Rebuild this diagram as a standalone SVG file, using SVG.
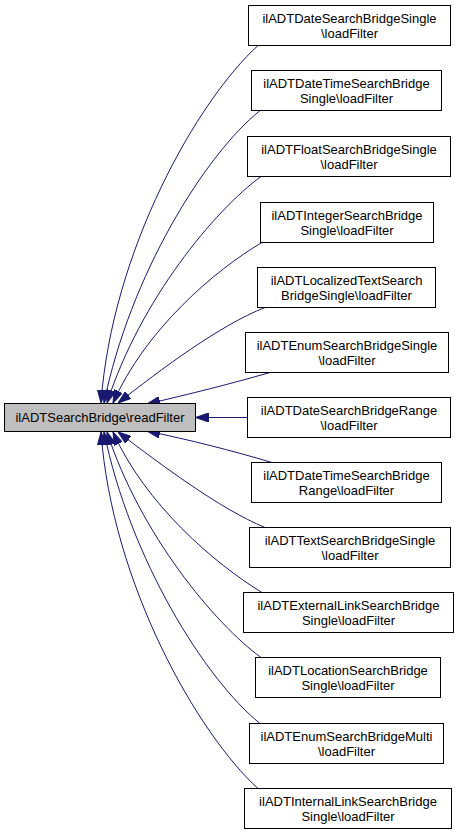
<svg xmlns="http://www.w3.org/2000/svg" width="455" height="836" viewBox="0 0 455 836">
<style>
.n rect{fill:#ffffff;stroke:#000000;stroke-width:1}
.n.main rect{fill:#bfbfbf}
.n text{font-family:"Liberation Sans",Arial,sans-serif;font-size:13px;fill:#000000;text-anchor:middle}
.e path{fill:none;stroke:#191970;stroke-width:1;marker-end:url(#ah)}
</style>
<defs>
<marker id="ah" markerUnits="userSpaceOnUse" viewBox="0 0 13 9" refX="13" refY="4.5" markerWidth="13" markerHeight="9" orient="auto">
<path d="M0,0 L13,4.5 L0,9 Z" fill="#191970" stroke="#191970" stroke-width="1"/>
</marker>
</defs>
<rect width="455" height="836" fill="#ffffff"/>
<g id="edges" class="e">
<path d="M258,45.5 C198,100 112,250 101,403"/>
<path d="M260,110.5 C205,155 130,275 104,403"/>
<path d="M261,176.5 C215,210 140,300 107,403"/>
<path d="M262,242.5 C215,270 145,330 113,403"/>
<path d="M265,307.5 C220,325 160,370 118,403"/>
<path d="M270,372.5 C230,384 190,394 147,404"/>
<path d="M247.5,417.5 L195.5,417.5"/>
<path d="M272,462.5 C230,450 190,440 147,431"/>
<path d="M265,527.5 C220,509 160,464 118,432"/>
<path d="M262,592.5 C215,564 145,504 113,432"/>
<path d="M261,657.5 C215,624 140,534 107,432"/>
<path d="M260,723.5 C205,679 130,559 104,432"/>
<path d="M258,788.5 C198,734 112,584 101,432"/>
</g>
<g id="main" class="n main"><rect x="4.5" y="403.5" width="191" height="28"/><text x="100" y="422">ilADTSearchBridge\readFilter</text></g>
<g id="n1" class="n"><rect x="248.5" y="5.5" width="202" height="40"/><text x="349.5" y="23">ilADTDateSearchBridgeSingle</text><text x="349.5" y="38">\loadFilter</text></g>
<g id="n2" class="n"><rect x="251.5" y="70.5" width="190" height="40"/><text x="346.5" y="88">ilADTDateTimeSearchBridge</text><text x="346.5" y="103">Single\loadFilter</text></g>
<g id="n3" class="n"><rect x="247.5" y="136.5" width="203" height="40"/><text x="349" y="154">ilADTFloatSearchBridgeSingle</text><text x="349" y="169">\loadFilter</text></g>
<g id="n4" class="n"><rect x="260.5" y="202.5" width="173" height="40"/><text x="347" y="220">ilADTIntegerSearchBridge</text><text x="347" y="235">Single\loadFilter</text></g>
<g id="n5" class="n"><rect x="257.5" y="267.5" width="178" height="40"/><text x="346.5" y="285">ilADTLocalizedTextSearch</text><text x="346.5" y="300">BridgeSingle\loadFilter</text></g>
<g id="n6" class="n"><rect x="245.5" y="332.5" width="203" height="40"/><text x="347" y="350">ilADTEnumSearchBridgeSingle</text><text x="347" y="365">\loadFilter</text></g>
<g id="n7" class="n"><rect x="247.5" y="397.5" width="203" height="40"/><text x="349" y="415">ilADTDateSearchBridgeRange</text><text x="349" y="430">\loadFilter</text></g>
<g id="n8" class="n"><rect x="251.5" y="462.5" width="190" height="40"/><text x="346.5" y="480">ilADTDateTimeSearchBridge</text><text x="346.5" y="495">Range\loadFilter</text></g>
<g id="n9" class="n"><rect x="249.5" y="527.5" width="201" height="40"/><text x="350" y="545">ilADTTextSearchBridgeSingle</text><text x="350" y="560">\loadFilter</text></g>
<g id="n10" class="n"><rect x="243.5" y="592.5" width="210" height="40"/><text x="348.5" y="610">ilADTExternalLinkSearchBridge</text><text x="348.5" y="625">Single\loadFilter</text></g>
<g id="n11" class="n"><rect x="255.5" y="657.5" width="185" height="40"/><text x="348" y="675">ilADTLocationSearchBridge</text><text x="348" y="690">Single\loadFilter</text></g>
<g id="n12" class="n"><rect x="249.5" y="723.5" width="194" height="40"/><text x="346.5" y="741">ilADTEnumSearchBridgeMulti</text><text x="346.5" y="756">\loadFilter</text></g>
<g id="n13" class="n"><rect x="244.5" y="788.5" width="207" height="40"/><text x="348" y="806">ilADTInternalLinkSearchBridge</text><text x="348" y="821">Single\loadFilter</text></g>
</svg>
